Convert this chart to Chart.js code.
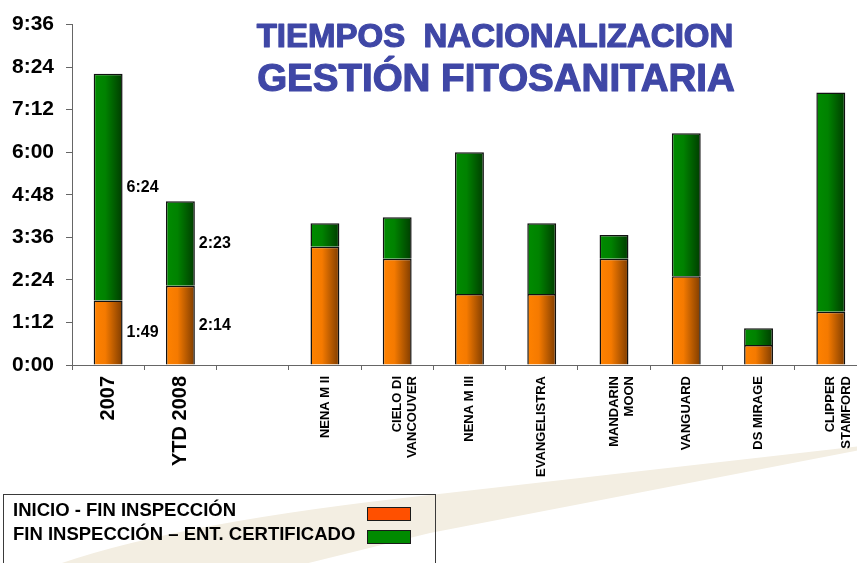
<!DOCTYPE html>
<html>
<head>
<meta charset="utf-8">
<script src="https://cdn.jsdelivr.net/npm/chart.js@4.4.0/dist/chart.umd.min.js"></script>
<style>
html, body { margin: 0; padding: 0; background: #fff; overflow: hidden; }
#wrap { position: relative; width: 857px; height: 563px; overflow: hidden; }
#wrap canvas { position: absolute; left: 0; top: 0; }
#legend {
    position: absolute; left: 3px; top: 494px; width: 433px; height: 90px;
    border: 1.5px solid #3a3a3a; padding-top: 3px; box-sizing: border-box;
    font: bold 18.5px "Liberation Sans", Arial, sans-serif; color: #000;
}
#legend .row { position: relative; height: 24px; line-height: 24px; padding-left: 9px; white-space: nowrap; }
#legend .sw { position: absolute; left: 363px; top: 9px; width: 42px; height: 12px; border: 1.5px solid #1a1a1a; }
#legend .row + .row .sw { top: 8px; }
</style>
</head>
<body>
<div id="wrap">
    <canvas id="tiemposChart" width="868" height="563"></canvas>
    <div id="legend"></div>
</div>
<script>
// categorias (el hueco vacio separa los totales de los buques)
var labels = ['2007', 'YTD 2008', '', 'NENA M II', ['CIELO DI', 'VANCOUVER'], 'NENA M III',
    'EVANGELISTRA', ['MANDARIN', 'MOON'], 'VANGUARD', 'DS MIRAGE', ['CLIPPER', 'STAMFORD']];
// minutos
var inicioFin = [109, 134, null, 200, 180, 120, 120, 180, 150, 34, 90];
var finCertificado = [384, 143, null, 40, 70, 240, 120, 40, 242, 28, 371];
var seriesNames = ['INICIO - FIN INSPECCIÓN', 'FIN INSPECCIÓN \u2013 ENT. CERTIFICADO'];
var legendColors = ['#ff5000', '#008a00'];
var yMax = 576;     // 9:36
var yStep = 72;     // 1:12
var labeledBars = 2; // solo 2007 y YTD 2008 llevan etiqueta

var FONT = '"Liberation Sans", Arial, sans-serif';

function fmt(min) {
    var h = Math.floor(min / 60);
    var m = Math.round(min % 60);
    return h + ':' + (m < 10 ? '0' : '') + m;
}

function barFill(c0, c1, c2) {
    return function (ctx) {
        if (ctx.type !== 'data') return c0;
        var chart = ctx.chart;
        var x = chart.scales.x;
        if (!x) return c0;
        var cx = x.getPixelForValue(ctx.dataIndex);
        var half = x.width / labels.length * 0.4 / 2;
        if (!isFinite(cx) || !isFinite(half)) return c0;
        var g = chart.ctx.createLinearGradient(cx - half, 0, cx + half, 0);
        g.addColorStop(0, c0);
        g.addColorStop(0.4, c1);
        g.addColorStop(1, c2);
        return g;
    };
}

var swoosh = {
    id: 'swoosh',
    beforeDraw: function (chart) {
        var c = chart.ctx;
        c.save();
        c.fillStyle = '#f3eee2';
        c.beginPath();
        c.moveTo(870, 445);
        c.lineTo(430, 495);
        c.quadraticCurveTo(150, 525, 30, 575);
        c.lineTo(260, 575);
        c.lineTo(430, 533);
        c.lineTo(870, 448);
        c.closePath();
        c.fill();
        c.restore();
    }
};

var titles = {
    id: 'titles',
    afterDraw: function (chart) {
        var c = chart.ctx;
        c.save();
        c.fillStyle = '#3f47a6';
        c.strokeStyle = '#3f47a6';
        c.lineWidth = 1.2;
        c.lineJoin = 'round';
        c.textAlign = 'center';
        c.textBaseline = 'alphabetic';
        c.font = 'bold 33px ' + FONT;
        c.fillText('TIEMPOS  NACIONALIZACION', 495, 47);
        c.strokeText('TIEMPOS  NACIONALIZACION', 495, 47);
        c.font = 'bold 38.5px ' + FONT;
        c.fillText('GESTIÓN FITOSANITARIA', 496, 91);
        c.strokeText('GESTIÓN FITOSANITARIA', 496, 91);
        c.restore();
    }
};

var valueLabels = {
    id: 'valueLabels',
    afterDatasetsDraw: function (chart) {
        var c = chart.ctx;
        c.save();
        c.fillStyle = '#000';
        c.font = 'bold 16px ' + FONT;
        c.textAlign = 'left';
        c.textBaseline = 'middle';
        chart.data.datasets.forEach(function (ds, di) {
            var meta = chart.getDatasetMeta(di);
            for (var i = 0; i < labeledBars; i++) {
                var el = meta.data[i];
                if (!el || ds.data[i] == null) continue;
                c.fillText(fmt(ds.data[i]), el.x + el.width / 2 + 4, (el.y + el.base) / 2);
            }
        });
        c.restore();
    }
};

var data = {
    labels: labels,
    datasets: [{
        label: seriesNames[0],
        data: inicioFin,
        backgroundColor: barFill('#ff8200', '#f57a00', '#7e3c00'),
        borderColor: '#111',
        borderWidth: 1.5
    }, {
        label: seriesNames[1],
        data: finCertificado,
        backgroundColor: barFill('#008c00', '#008200', '#003c00'),
        borderColor: '#111',
        borderWidth: 1.5
    }]
};

var options = {
    responsive: false,
    animation: false,
    devicePixelRatio: 1,
    layout: { padding: { top: 23, left: 0, right: 0, bottom: 0 } },
    datasets: { bar: { barPercentage: 0.4, categoryPercentage: 1 } },
    plugins: {
        legend: { display: false },
        tooltip: { enabled: false },
        title: { display: false }
    },
    scales: {
        x: {
            stacked: true,
            grid: { display: true, drawOnChartArea: false, offset: true, tickLength: 5, color: '#666' },
            border: { color: '#666', width: 1 },
            ticks: {
                autoSkip: false,
                maxRotation: 90,
                minRotation: 90,
                padding: 6,
                color: '#000',
                font: function (ctx) {
                    return { family: FONT, weight: 'bold', size: ctx.index < 2 ? 20 : 13, lineHeight: 1.2 };
                }
            },
            afterFit: function (s) { s.height = 563 - 365; }
        },
        y: {
            stacked: true,
            min: 0,
            max: yMax,
            grid: { drawOnChartArea: false, tickLength: 6, color: '#666' },
            border: { color: '#666', width: 1 },
            ticks: {
                stepSize: yStep,
                padding: 12,
                color: '#000',
                font: { family: FONT, weight: 'bold', size: 21 },
                callback: function (v) { return fmt(v); }
            },
            afterFit: function (s) { s.width = 72; }
        }
    }
};

var ctx = document.getElementById('tiemposChart').getContext('2d');
var tiemposChart = new Chart(ctx, {
    type: 'bar',
    data: data,
    options: options,
    plugins: [swoosh, valueLabels, titles]
});
tiemposChart.update();

// leyenda en caja abajo a la izquierda
var legendEl = document.getElementById('legend');
seriesNames.forEach(function (name, i) {
    var row = document.createElement('div');
    row.className = 'row';
    row.textContent = name;
    var sw = document.createElement('span');
    sw.className = 'sw';
    sw.style.background = legendColors[i];
    row.appendChild(sw);
    legendEl.appendChild(row);
});
</script>
</body>
</html>
